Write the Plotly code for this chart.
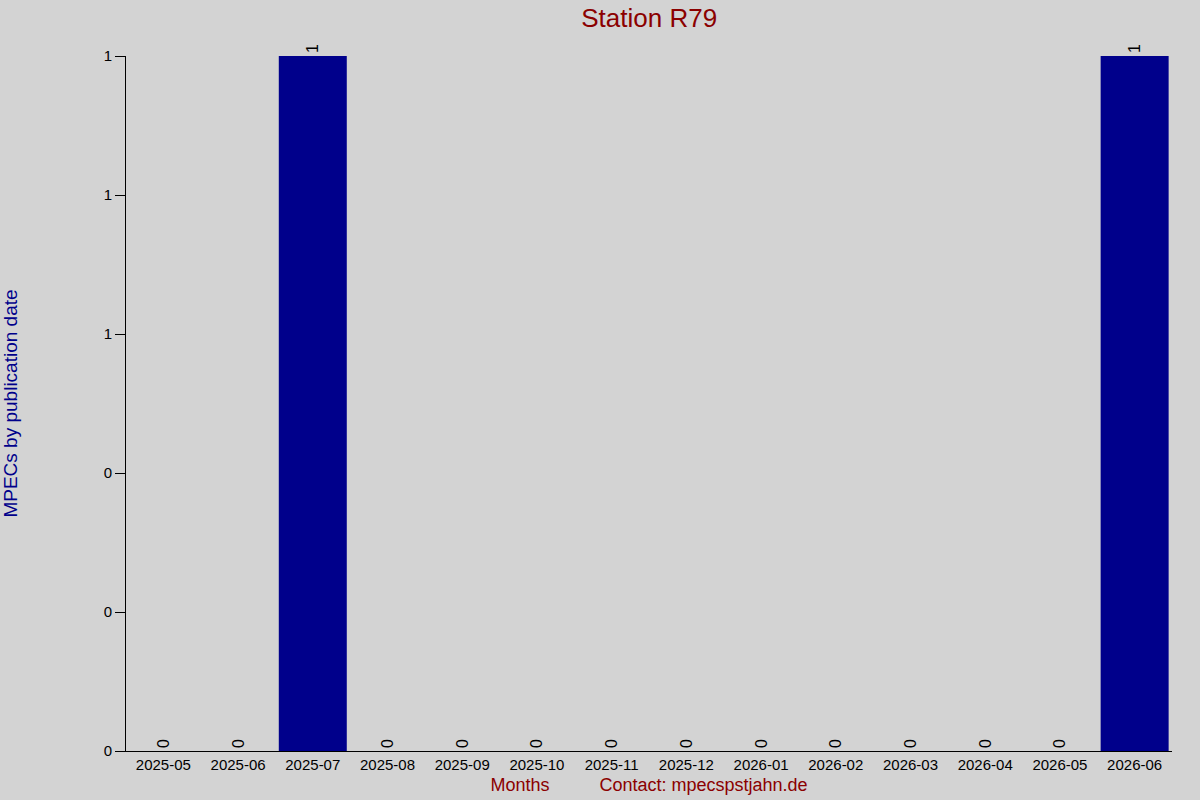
import plotly.graph_objects as go

months = ['2025-05', '2025-06', '2025-07', '2025-08', '2025-09', '2025-10', '2025-11',
          '2025-12', '2026-01', '2026-02', '2026-03', '2026-04', '2026-05', '2026-06']
mpecs = [0, 0, 1, 0, 0, 0, 0, 0, 0, 0, 0, 0, 0, 1]

y_tickvals = [0, 0.2, 0.4, 0.6, 0.8, 1]
y_ticktext = ['0', '0', '0', '1', '1', '1']

fig = go.Figure(go.Bar(
    x=months, y=mpecs,
    marker=dict(color='#00008b', line=dict(width=0)),
    text=[str(v) for v in mpecs],
    textposition='outside',
    textangle=-90,
    textfont=dict(color='black', size=16),
    cliponaxis=False,
))

fig.update_layout(
    width=1200, height=800,
    paper_bgcolor='#d3d3d3', plot_bgcolor='#d3d3d3',
    font=dict(family='Liberation Sans, Arial, sans-serif', size=15, color='black'),
    margin=dict(l=126, r=28, t=56, b=49),
    bargap=0.09,
    showlegend=False,
    title=dict(text='Station R79', x=0.541, xanchor='center', y=0.978, yanchor='middle',
               font=dict(size=26, color='#8b0000')),
)

fig.update_xaxes(
    type='category',
    showline=True, linecolor='black', linewidth=1,
    showgrid=False, ticks='', automargin=False,
    title=dict(text='Months' + '&nbsp;' * 10 + 'Contact: mpecspstjahn.de',
               font=dict(size=18, color='#8b0000'), standoff=6),
)

fig.update_yaxes(
    range=[0, 1],
    tickvals=y_tickvals, ticktext=y_ticktext,
    showline=True, linecolor='black', linewidth=1,
    showgrid=False, zeroline=False,
    ticks='outside', ticklen=10, tickcolor='black',
    automargin=False,
    title=dict(text='MPECs by publication date', font=dict(size=19, color='#00008b'), standoff=85),
)

fig.write_html('out.html', config={'displayModeBar': False},
               post_script="document.body.style.margin='0';document.body.style.background='#d3d3d3';")
